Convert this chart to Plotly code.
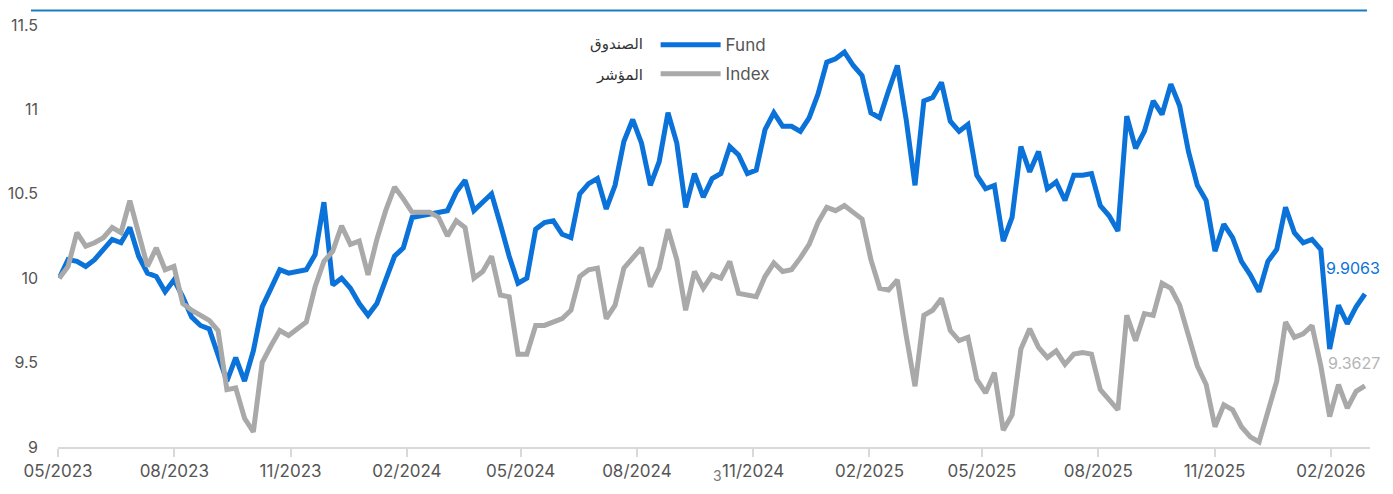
import pandas as pd
import plotly.graph_objects as go

start_date = "2023-05-02"
end_date = "2026-02-28"
n_points = 149

fund = [
    10.00, 10.11, 10.10, 10.07, 10.11, 10.17, 10.23, 10.21, 10.30, 10.13,
    10.03, 10.01, 9.92, 9.99, 9.89, 9.77, 9.72, 9.70, 9.55, 9.39,
    9.53, 9.39, 9.57, 9.83, 9.94, 10.05, 10.03, 10.04, 10.05, 10.14,
    10.45, 9.96, 10.00, 9.94, 9.85, 9.78, 9.85, 9.99, 10.13, 10.18,
    10.36, 10.37, 10.38, 10.39, 10.40, 10.51, 10.58, 10.40, 10.45, 10.50,
    10.32, 10.13, 9.97, 10.00, 10.29, 10.33, 10.34, 10.26, 10.24, 10.50,
    10.56, 10.59, 10.41, 10.55, 10.81, 10.94, 10.80, 10.55, 10.69, 10.98,
    10.80, 10.42, 10.62, 10.48, 10.59, 10.62, 10.78, 10.73, 10.62, 10.64,
    10.88, 10.98, 10.90, 10.90, 10.87, 10.95, 11.09, 11.28, 11.30, 11.34,
    11.26, 11.20, 10.98, 10.95, 11.11, 11.26, 10.94, 10.55, 11.05, 11.07,
    11.16, 10.93, 10.87, 10.91, 10.61, 10.53, 10.55, 10.22, 10.36, 10.78,
    10.63, 10.75, 10.53, 10.57, 10.46, 10.61, 10.61, 10.62, 10.43, 10.37,
    10.28, 10.96, 10.77, 10.87, 11.05, 10.97, 11.15, 11.02, 10.75, 10.55,
    10.46, 10.16, 10.32, 10.24, 10.10, 10.02, 9.92, 10.10, 10.17, 10.42,
    10.27, 10.21, 10.23, 10.17, 9.58, 9.84, 9.73, 9.83, 9.9063,
]

index = [
    10.00, 10.07, 10.27, 10.19, 10.21, 10.24, 10.30, 10.27, 10.46, 10.25,
    10.07, 10.18, 10.05, 10.07, 9.85, 9.81, 9.78, 9.75, 9.69, 9.34,
    9.35, 9.17, 9.09, 9.50, 9.60, 9.69, 9.66, 9.70, 9.74, 9.95,
    10.10, 10.16, 10.31, 10.20, 10.22, 10.02, 10.23, 10.40, 10.54, 10.47,
    10.39, 10.39, 10.39, 10.36, 10.25, 10.34, 10.30, 10.00, 10.04, 10.13,
    9.90, 9.89, 9.55, 9.55, 9.72, 9.72, 9.74, 9.76, 9.81, 10.01,
    10.05, 10.06, 9.76, 9.84, 10.06, 10.12, 10.18, 9.95, 10.06, 10.29,
    10.11, 9.81, 10.04, 9.94, 10.02, 10.00, 10.10, 9.91, 9.90, 9.89,
    10.01, 10.09, 10.04, 10.05, 10.12, 10.20, 10.33, 10.42, 10.40, 10.43,
    10.39, 10.35, 10.11, 9.94, 9.93, 9.99, 9.66, 9.36, 9.78, 9.81,
    9.88, 9.69, 9.63, 9.65, 9.40, 9.32, 9.44, 9.10, 9.19, 9.58,
    9.70, 9.59, 9.53, 9.57, 9.49, 9.55, 9.56, 9.55, 9.34, 9.28,
    9.22, 9.78, 9.63, 9.79, 9.78, 9.97, 9.94, 9.84, 9.65, 9.48,
    9.37, 9.12, 9.25, 9.22, 9.12, 9.06, 9.03, 9.22, 9.39, 9.74,
    9.65, 9.67, 9.72, 9.48, 9.18, 9.37, 9.23, 9.33, 9.3627,
]

y_ticks = [9, 9.5, 10, 10.5, 11, 11.5]
y_tick_labels = ["9", "9.5", "10", "10.5", "11", "11.5"]

series_names = ["Fund", "Index"]
arabic_names = ["الصندوق", "المؤشر"]
fund_label = "9.9063"
index_label = "9.3627"

dates = pd.date_range(start_date, end_date, periods=n_points)

FUND_COLOR = "#0a72d8"
INDEX_COLOR = "#a9a9a9"
TEXT_COLOR = "#555555"
FONT = "Inter, Lato, 'DejaVu Sans', sans-serif"

fig = go.Figure()
fig.add_trace(go.Scatter(
    x=dates, y=fund, mode="lines", name=series_names[0], legendgroup="a",
    line=dict(color=FUND_COLOR, width=5, shape="linear"),
    hoverinfo="x+y",
))
fig.add_trace(go.Scatter(
    x=dates, y=index, mode="lines", name=series_names[1], legendgroup="b",
    line=dict(color=INDEX_COLOR, width=5, shape="linear"),
    hoverinfo="x+y",
))

# page body has an 8px default margin, so the figure is 16px smaller than the window
fig.update_layout(
    width=1377, height=478,
    margin=dict(l=50, r=15, t=17, b=39, autoexpand=False),
    paper_bgcolor="white", plot_bgcolor="white",
    font=dict(family=FONT, size=16, color=TEXT_COLOR),
    showlegend=True,
    legend=dict(
        x=0.4555, xanchor="left", y=0.995, yanchor="top",
        bgcolor="rgba(0,0,0,0)", font=dict(size=17, color=TEXT_COLOR),
        itemwidth=60, tracegroupgap=4, traceorder="grouped",
    ),
    xaxis=dict(
        type="date", automargin=False,
        range=["2023-05-01", "2026-03-04"],
        tick0="2023-05-01", dtick="M3", tickformat="%m/%Y",
        showgrid=False, zeroline=False,
        showline=True, linecolor="#d9d9d9", linewidth=2,
        ticks="outside", ticklen=8, tickwidth=2, tickcolor="#d9d9d9",
        tickfont=dict(size=17, color=TEXT_COLOR),
    ),
    yaxis=dict(
        range=[9, 11.5], automargin=False,
        tickvals=y_ticks, ticktext=y_tick_labels,
        showgrid=False, zeroline=False, showline=False,
        ticks="", ticklabelstandoff=19,
        tickfont=dict(size=16, color=TEXT_COLOR),
    ),
)

# decorative top rule
fig.add_shape(type="line", xref="paper", yref="paper",
              x0=-0.0206, x1=0.9977, y0=1.0344, y1=1.0344,
              line=dict(color="#1a7bc2", width=2))

# Arabic legend labels
for name, yp in zip(arabic_names, [0.955, 0.8815]):
    fig.add_annotation(xref="paper", yref="paper", x=0.4474, y=yp,
                       text=name, showarrow=False, xanchor="right", yanchor="middle",
                       font=dict(family="'DejaVu Sans', 'Noto Sans', sans-serif", size=15, color="#333333"))

# end-value labels (right-aligned so they stay inside the figure)
fig.add_annotation(x=dates[-1], y=fund[-1], text=fund_label, showarrow=False,
                   xanchor="right", yanchor="middle", xshift=17, yshift=26,
                   font=dict(size=16, color=FUND_COLOR))
fig.add_annotation(x=dates[-1], y=index[-1], text=index_label, showarrow=False,
                   xanchor="right", yanchor="middle", xshift=17, yshift=23,
                   font=dict(size=16, color="#b5b5b5"))

# stray footnote marker (kept fully inside the figure)
fig.add_annotation(xref="paper", yref="paper", x=0.5023, y=-0.092,
                   text="3", showarrow=False, xanchor="center", yanchor="bottom",
                   font=dict(size=14, color="#777777"))

fig.write_html("out.html")
